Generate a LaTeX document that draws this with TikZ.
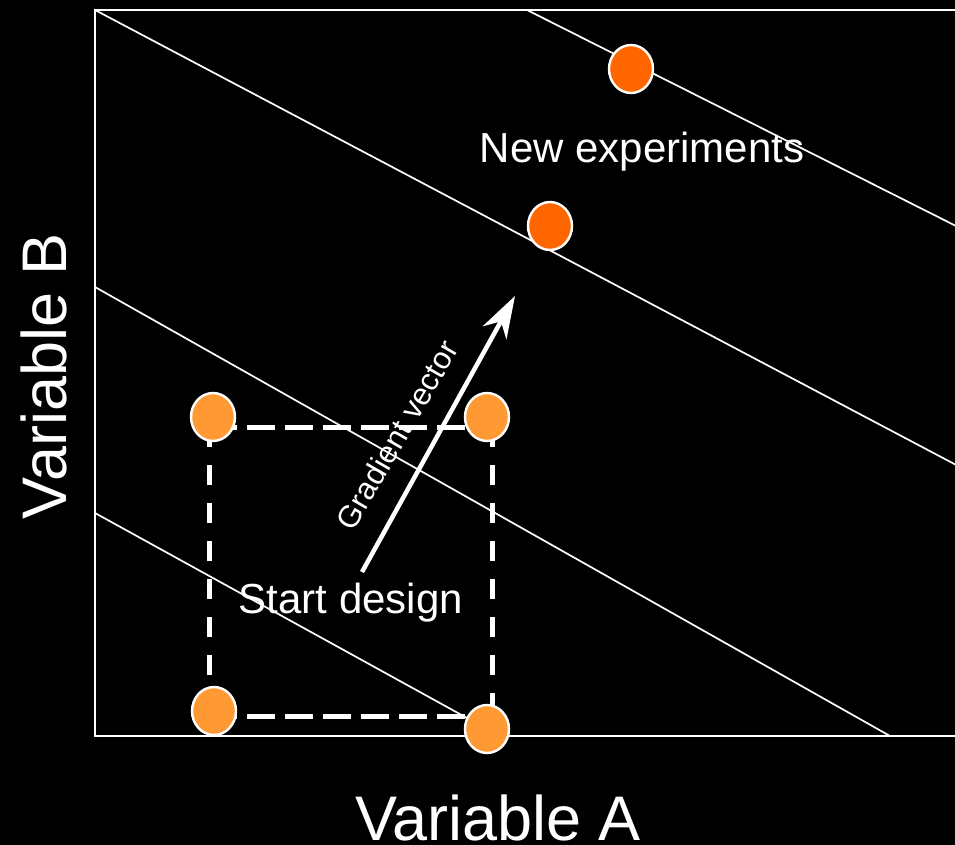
\documentclass[tikz,border=0pt]{standalone}
\usepackage{fontspec}
\setmainfont{Liberation Sans}
\usetikzlibrary{arrows.meta,shapes.geometric}
\definecolor{darkor}{HTML}{FF6600}
\definecolor{lightor}{HTML}{FF9933}
\begin{document}
\begin{tikzpicture}[x=1pt,y=-1pt,
  frameline/.style={white, line width=2pt},
  diagline/.style={white, line width=1.7pt},
  dashh/.style={white, line width=5pt, dash pattern=on 28pt off 10pt},
  dashv/.style={white, line width=5pt, dash pattern=on 20pt off 18pt},
  dot/.style={ellipse, draw=white, line width=2.4pt, minimum width=44pt, minimum height=48pt, inner sep=0pt},
  bigtext/.style={text=white, font=\fontsize{42}{48}\selectfont, inner sep=0pt},
  axistext/.style={text=white, font=\fontsize{63}{70}\selectfont, inner sep=0pt, text depth=0pt},
  gradtext/.style={text=white, font=\fontsize{31}{36}\selectfont, inner sep=0pt}]
\fill[black] (0,0) rectangle (955,845);
\useasboundingbox (0,0) rectangle (955,845);
\begin{scope}
\clip (0,0) rectangle (955,845);
% frame
\coordinate (ftl) at (95,10);
\coordinate (ftr) at (960,10);
\coordinate (fbl) at (95,736);
\coordinate (fbr) at (960,736);
\draw[frameline] (ftr) -- (ftl) -- (fbl) -- (fbr);
% diagonal lines
\coordinate (d1a) at (95,10);   \coordinate (d1b) at (960,467);
\coordinate (d2a) at (527,10);  \coordinate (d2b) at (960,228);
\coordinate (d3a) at (95,287);  \coordinate (d3b) at (890,736);
\coordinate (d4a) at (95,513);
% dot positions
\coordinate (p1) at (631,69);
\coordinate (p2) at (550,226);
\coordinate (q1) at (213,417);
\coordinate (q2) at (487,417);
\coordinate (q3) at (214,711);
\coordinate (q4) at (487,729);
\draw[diagline] (d1a) -- (d1b);
\draw[diagline] (d2a) -- (d2b);
\draw[diagline] (d3a) -- (d3b);
\draw[diagline] (d4a) -- (q4);
% dashed start design box
\coordinate (r1) at (209,427);
\coordinate (r2) at (492,427);
\coordinate (r3) at (492,716);
\coordinate (r4) at (209,716);
\draw[dashh] (r1) -- (r2);
\draw[dashh] (r4) -- (r3);
\draw[dashv] (r1) -- (r4);
\draw[dashv] (r2) -- (r3);
% gradient arrow
\coordinate (ga) at (362,572);
\coordinate (gb) at (515,296);
\draw[white, line width=4.5pt, -{Stealth[length=42pt, width=27pt, inset=13pt]}] (ga) -- (gb);
\node[gradtext, rotate=60] (gv) at (397,435) {Gradient vector};
% labels
\node[bigtext, anchor=base] (ne) at (642,163) {New experiments};
\node[bigtext, anchor=base] (sd) at (351,613) {Start design};
\node[axistext, anchor=base] (va) at (498,840) {Variable A};
\node[axistext, anchor=base, rotate=90] (vb) at (66,376) {Variable B};
% dots on top
\node[dot, fill=darkor] (n1) at (p1) {};
\node[dot, fill=darkor] (n2) at (p2) {};
\node[dot, fill=lightor] (s1) at (q1) {};
\node[dot, fill=lightor] (s2) at (q2) {};
\node[dot, fill=lightor] (s3) at (q3) {};
\node[dot, fill=lightor] (s4) at (q4) {};
\end{scope}
\end{tikzpicture}
\end{document}
